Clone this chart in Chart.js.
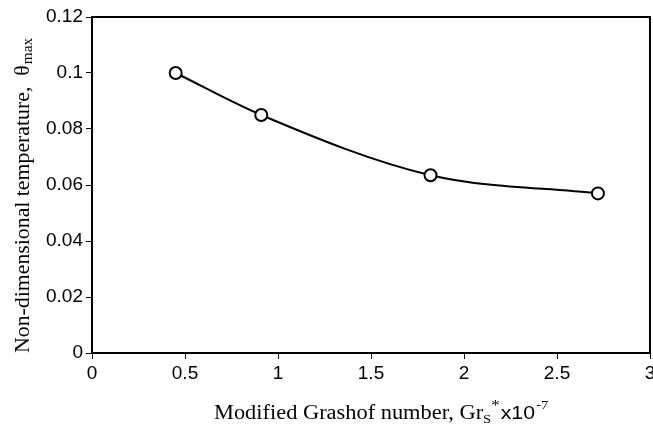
<!DOCTYPE html>
<html>
<head>
<meta charset="utf-8">
<style>
  html, body { margin: 0; padding: 0; background: #fff; }
  #wrap { width: 653px; height: 424px; position: relative; }
</style>
<script src="https://cdn.jsdelivr.net/npm/chart.js@4.4.1/dist/chart.umd.min.js"></script>
</head>
<body>
<div id="wrap"><canvas id="c" width="653" height="424"></canvas></div>
<script>
const grashof = [0.45, 0.91, 1.82, 2.72];
const thetaMax = [0.100, 0.085, 0.0635, 0.057];
const xTicks = ["0", "0.5", "1", "1.5", "2", "2.5", "3"];
const yTicks = ["0", "0.02", "0.04", "0.06", "0.08", "0.1", "0.12"];

const points = grashof.map((x, i) => ({ x: x, y: thetaMax[i] }));

const framePlugin = {
  id: 'frame',
  afterDraw(chart) {
    const ctx = chart.ctx;
    const a = chart.chartArea;
    ctx.save();
    ctx.strokeStyle = '#000';
    ctx.lineWidth = 2;
    ctx.strokeRect(a.left, a.top, a.right - a.left, a.bottom - a.top);
    ctx.fillStyle = '#000';
    ctx.textBaseline = 'alphabetic';
    // X title (stretched horizontally)
    ctx.save();
    ctx.translate(214, 419);
    ctx.scale(1.12, 1);
    let x = 0;
    ctx.font = '20px "Liberation Serif", "Times New Roman", serif';
    const t1 = 'Modified Grashof number, Gr';
    ctx.fillText(t1, x, 0);
    x += ctx.measureText(t1).width;
    ctx.font = '13px "Liberation Serif", serif';
    ctx.fillText('S', x, 4);
    const sw = ctx.measureText('S').width;
    ctx.font = '15px "Liberation Serif", serif';
    ctx.fillText('*', x + sw, -9);
    x += sw + ctx.measureText('*').width + 1;
    ctx.font = '19px "Liberation Sans", Arial, sans-serif';
    ctx.fillText('x10', x, 0);
    x += ctx.measureText('x10').width;
    ctx.font = '13px "Liberation Serif", serif';
    ctx.fillText('-7', x + 1, -10);
    ctx.restore();
    // Y title (rotated, stretched along text)
    ctx.translate(29, 353);
    ctx.rotate(-Math.PI / 2);
    ctx.scale(1.09, 1);
    ctx.font = '20px "Liberation Serif", "Times New Roman", serif';
    const t2 = 'Non-dimensional temperature,  \u03B8';
    ctx.fillText(t2, 0, 0);
    const w2 = ctx.measureText(t2).width;
    ctx.font = '14px "Liberation Serif", serif';
    ctx.fillText('max', w2 + 1, 3);
    ctx.restore();
  }
};

new Chart(document.getElementById('c'), {
  type: 'scatter',
  data: {
    datasets: [{
      data: points,
      showLine: true,
      borderColor: '#000',
      borderWidth: 2,
      tension: 0.4,
      cubicInterpolationMode: 'monotone',
      pointRadius: 6,
      pointHoverRadius: 6,
      pointBackgroundColor: '#fff',
      pointBorderColor: '#000',
      pointBorderWidth: 2
    }]
  },
  options: {
    responsive: false,
    animation: false,
    devicePixelRatio: 1,
    layout: { autoPadding: false, padding: { top: 17, right: 3, left: 0, bottom: 0 } },
    plugins: { legend: { display: false }, tooltip: { enabled: false } },
    scales: {
      x: {
        type: 'linear',
        min: 0, max: 3,
        ticks: {
          stepSize: 0.5,
          color: '#000',
          font: { family: '"Liberation Sans", Arial, sans-serif', size: 19 },
          padding: 3,
          maxRotation: 0,
          autoSkip: false,
          callback: (v) => { const i = Math.round(v / 0.5); return xTicks[i]; }
        },
        grid: { drawOnChartArea: false, drawTicks: true, tickLength: 6, color: '#000', lineWidth: 1 },
        border: { display: true, color: '#000', width: 2 },
        afterFit(s) { s.height = 71; s.paddingLeft = 0; s.paddingRight = 0; }
      },
      y: {
        type: 'linear',
        min: 0, max: 0.12,
        ticks: {
          stepSize: 0.02,
          color: '#000',
          font: { family: '"Liberation Sans", Arial, sans-serif', size: 19 },
          padding: 3,
          autoSkip: false,
          callback: (v) => { const i = Math.round(v / 0.02); return yTicks[i]; }
        },
        grid: { drawOnChartArea: false, drawTicks: true, tickLength: 6, color: '#000', lineWidth: 1 },
        border: { display: true, color: '#000', width: 2 },
        afterFit(s) { s.width = 92; s.paddingTop = 0; s.paddingBottom = 0; }
      }
    }
  },
  plugins: [framePlugin]
});
</script>
</body>
</html>
